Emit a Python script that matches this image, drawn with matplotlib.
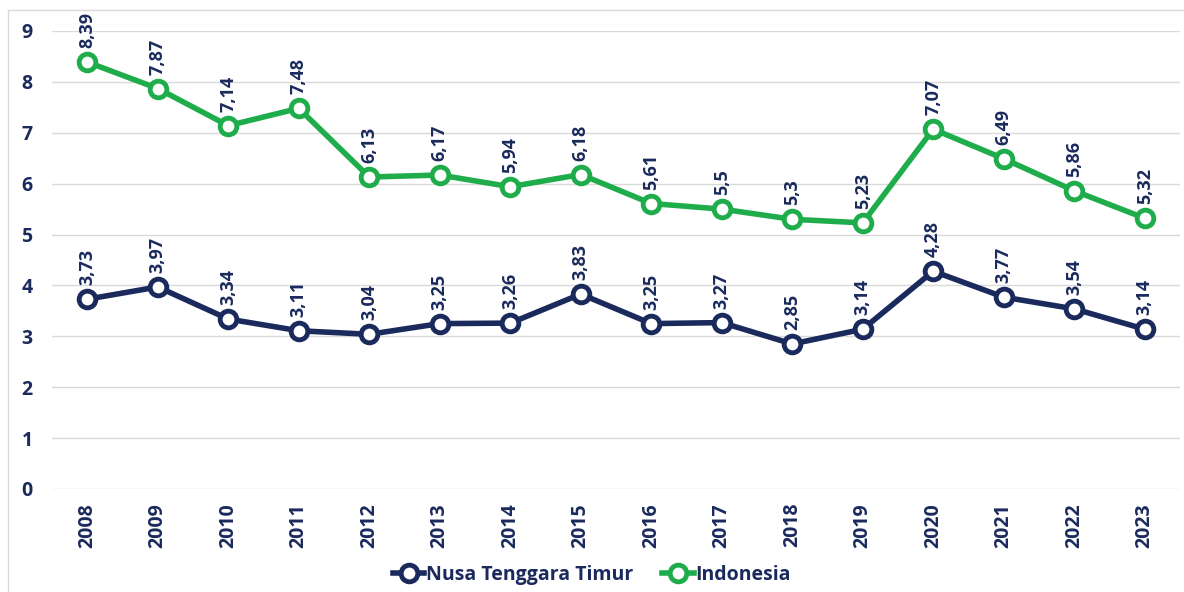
import matplotlib.pyplot as plt
from matplotlib.patches import Rectangle

plt.rcParams['font.family'] = ['Open Sans', 'DejaVu Sans']

years = ['2008', '2009', '2010', '2011', '2012', '2013', '2014', '2015',
         '2016', '2017', '2018', '2019', '2020', '2021', '2022', '2023']
ntt = [3.73, 3.97, 3.34, 3.11, 3.04, 3.25, 3.26, 3.83,
       3.25, 3.27, 2.85, 3.14, 4.28, 3.77, 3.54, 3.14]
indonesia = [8.39, 7.87, 7.14, 7.48, 6.13, 6.17, 5.94, 6.18,
             5.61, 5.5, 5.3, 5.23, 7.07, 6.49, 5.86, 5.32]

navy = '#1a2a5c'
green = '#1fad4b'

fig = plt.figure(figsize=(11.84, 5.92), dpi=100)
ax = fig.add_axes([52 / 1184, 1 - 489 / 592, 1128 / 1184, 458 / 592])

# chart border
fig.patches.append(Rectangle((8 / 1184, -0.1), 1.2, 1 - 10 / 592 + 0.1,
                             transform=fig.transFigure, fill=False,
                             edgecolor='#d9d9d9', linewidth=1))

x = list(range(len(years)))
ax.plot(x, ntt, color=navy, linewidth=4, marker='o', markersize=12,
        markerfacecolor='white', markeredgewidth=3.5, label='Nusa Tenggara Timur',
        zorder=3)
ax.plot(x, indonesia, color=green, linewidth=4, marker='o', markersize=12,
        markerfacecolor='white', markeredgewidth=3.5, label='Indonesia', zorder=3)

def fmt(v):
    s = ('%.2f' % v).rstrip('0').rstrip('.')
    return s.replace('.', ',')

for series in (ntt, indonesia):
    for i, v in enumerate(series):
        ax.annotate(fmt(v), (i, v), xytext=(0, 10), textcoords='offset points',
                    rotation=90, ha='center', va='bottom', color=navy,
                    fontsize=13, fontweight='bold')

ax.set_xlim(-0.5, len(years) - 0.5)
ax.set_ylim(0, 9)
ax.set_yticks(range(10))
ax.set_xticks(x)
ax.set_xticklabels(years, rotation=90)
ax.tick_params(length=0, labelcolor=navy, labelsize=14)
ax.tick_params(axis='y', pad=14)
ax.tick_params(axis='x', pad=10)
for lab in ax.get_xticklabels() + ax.get_yticklabels():
    lab.set_fontweight('bold')
ax.grid(axis='y', color='#d9d9d9', linewidth=1)
ax.set_axisbelow(True)
for s in ax.spines.values():
    s.set_visible(False)

leg = fig.legend(loc='center', bbox_to_anchor=(0.5, 1 - 575 / 592), ncol=2,
                 frameon=False, handlelength=1.6, handletextpad=0.1,
                 columnspacing=1.5, prop={'size': 14, 'weight': 'bold'})
for t in leg.get_texts():
    t.set_color(navy)

fig.savefig('out.png', dpi=100)
